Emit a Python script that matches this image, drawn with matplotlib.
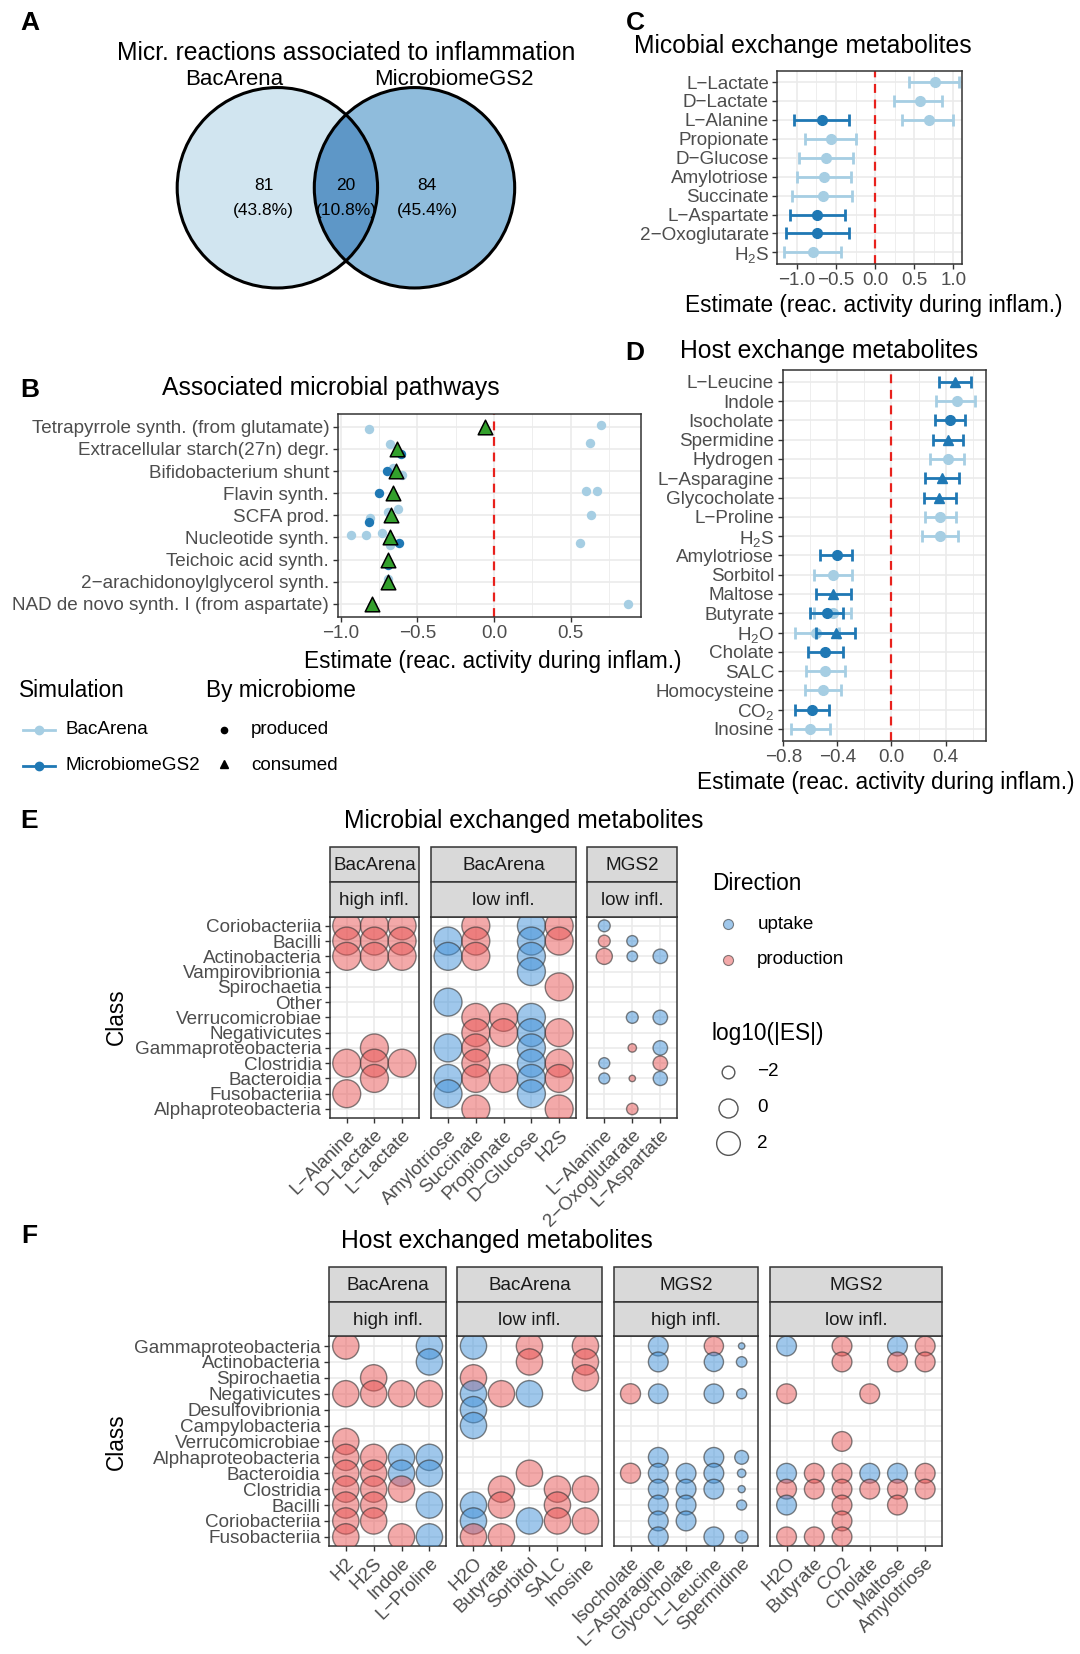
import matplotlib
matplotlib.use("Agg")
import matplotlib.pyplot as plt
from matplotlib.patches import Circle, Rectangle
import numpy as np

plt.rcParams['font.family'] = ['Liberation Sans', 'DejaVu Sans']
plt.rcParams['mathtext.default'] = 'regular'

# ======================= DATA =======================
venn_sets = ["BacArena", "MicrobiomeGS2"]
venn_counts = [81, 20, 84]
venn_pct = ["43.8%", "10.8%", "45.4%"]

pathways = ["Tetrapyrrole synth. (from glutamate)", "Extracellular starch(27n) degr.",
            "Bifidobacterium shunt", "Flavin synth.", "SCFA prod.", "Nucleotide synth.",
            "Teichoic acid synth.", "2\u2212arachidonoylglycerol synth.",
            "NAD de novo synth. I (from aspartate)"]
# BacArena reactions (row, estimate, jitter)
B_bac_row = [0, 0, 1, 1, 2, 2, 3, 3, 4, 4, 4, 4, 5, 5, 5, 5, 5, 7, 8]
B_bac_est = [-0.815, 0.695, -0.68, 0.625, -0.66, -0.60, 0.60, 0.67, -0.81, -0.69, -0.625, 0.633,
             -0.93, -0.833, -0.73, -0.68, 0.56, -0.69, 0.876]
B_bac_dy = [0.1, -0.1, -0.2, -0.25, -0.15, 0.2, -0.1, -0.1, 0.1, -0.15, -0.3, 0.0,
            -0.1, -0.1, -0.2, 0.35, 0.25, -0.1, 0.0]
# MicrobiomeGS2 reactions
B_mgs_row = [1, 2, 3, 4, 5, 6, 8]
B_mgs_est = [-0.607, -0.70, -0.75, -0.815, -0.617, -0.69, -0.795]
B_mgs_dy = [0.25, 0.0, 0.0, 0.3, 0.25, 0.25, 0.1]
# consumed (triangles)
B_con_est = [-0.057, -0.635, -0.64, -0.66, -0.67, -0.677, -0.69, -0.69, -0.795]

C_mets = ["L\u2212Lactate", "D\u2212Lactate", "L\u2212Alanine", "Propionate", "D\u2212Glucose",
          "Amylotriose", "Succinate", "L\u2212Aspartate", "2\u2212Oxoglutarate", "H$_2$S"]
C_met = [0, 1, 2, 2, 3, 4, 5, 6, 7, 8, 9]
C_sim = ["BacArena", "BacArena", "MicrobiomeGS2", "BacArena", "BacArena", "BacArena", "BacArena",
         "BacArena", "MicrobiomeGS2", "MicrobiomeGS2", "BacArena"]
C_est = [0.77, 0.57, -0.68, 0.69, -0.565, -0.626, -0.656, -0.67, -0.743, -0.743, -0.79]
C_lo = [0.44, 0.24, -1.035, 0.35, -0.90, -0.97, -1.00, -1.056, -1.087, -1.14, -1.16]
C_hi = [1.07, 0.86, -0.335, 1.00, -0.24, -0.28, -0.31, -0.29, -0.38, -0.335, -0.435]

D_mets = ["L\u2212Leucine", "Indole", "Isocholate", "Spermidine", "Hydrogen", "L\u2212Asparagine",
          "Glycocholate", "L\u2212Proline", "H$_2$S", "Amylotriose", "Sorbitol", "Maltose",
          "Butyrate", "H$_2$O", "Cholate", "SALC", "Homocysteine", "CO$_2$", "Inosine"]
D_met = [0, 1, 2, 3, 4, 5, 6, 7, 8, 9, 10, 11, 12, 12, 13, 13, 14, 15, 16, 17, 18]
D_sim = ["MicrobiomeGS2", "BacArena", "MicrobiomeGS2", "MicrobiomeGS2", "BacArena", "MicrobiomeGS2",
         "MicrobiomeGS2", "BacArena", "BacArena", "MicrobiomeGS2", "BacArena", "MicrobiomeGS2",
         "MicrobiomeGS2", "BacArena", "BacArena", "MicrobiomeGS2", "MicrobiomeGS2", "BacArena",
         "BacArena", "MicrobiomeGS2", "BacArena"]
D_dir = ["consumed", "produced", "produced", "consumed", "produced", "consumed", "consumed",
         "produced", "produced", "produced", "produced", "consumed", "produced", "produced",
         "produced", "consumed", "produced", "produced", "produced", "produced", "produced"]
D_est = [0.47, 0.485, 0.43, 0.42, 0.415, 0.377, 0.354, 0.36, 0.36, -0.40, -0.43, -0.435,
         -0.48, -0.43, -0.555, -0.41, -0.49, -0.49, -0.505, -0.585, -0.60]
D_lo = [0.35, 0.33, 0.32, 0.31, 0.285, 0.25, 0.24, 0.245, 0.225, -0.525, -0.575, -0.56,
        -0.60, -0.57, -0.71, -0.56, -0.62, -0.63, -0.64, -0.71, -0.74]
D_hi = [0.585, 0.615, 0.545, 0.53, 0.54, 0.50, 0.477, 0.48, 0.49, -0.29, -0.295, -0.30,
        -0.36, -0.30, -0.39, -0.27, -0.36, -0.345, -0.37, -0.46, -0.455]

E_classes = ["Coriobacteriia", "Bacilli", "Actinobacteria", "Vampirovibrionia", "Spirochaetia",
             "Other", "Verrucomicrobiae", "Negativicutes", "Gammaproteobacteria", "Clostridia",
             "Bacteroidia", "Fusobacteriia", "Alphaproteobacteria"]
E_bac_high_mets = ["L\u2212Alanine", "D\u2212Lactate", "L\u2212Lactate"]
E_bac_high = [
    ("Coriobacteriia", 0, "production", 4.2), ("Coriobacteriia", 1, "production", 4.2),
    ("Coriobacteriia", 2, "production", 4.2), ("Bacilli", 0, "production", 4.2),
    ("Bacilli", 1, "production", 4.2), ("Bacilli", 2, "production", 4.2),
    ("Actinobacteria", 0, "production", 4.2), ("Actinobacteria", 1, "production", 4.2),
    ("Actinobacteria", 2, "production", 4.2), ("Gammaproteobacteria", 1, "production", 4.2),
    ("Clostridia", 0, "production", 4.2), ("Clostridia", 1, "production", 4.2),
    ("Clostridia", 2, "production", 4.2), ("Bacteroidia", 1, "production", 4.2),
    ("Fusobacteriia", 0, "production", 4.2)]
E_bac_low_mets = ["Amylotriose", "Succinate", "Propionate", "D\u2212Glucose", "H2S"]
E_bac_low = [
    ("Coriobacteriia", 1, "production", 4.2), ("Coriobacteriia", 3, "uptake", 4.2),
    ("Coriobacteriia", 4, "production", 4.2), ("Bacilli", 0, "uptake", 4.2),
    ("Bacilli", 1, "production", 4.2), ("Bacilli", 3, "uptake", 4.2),
    ("Bacilli", 4, "production", 4.2), ("Actinobacteria", 0, "uptake", 4.2),
    ("Actinobacteria", 1, "production", 4.2), ("Actinobacteria", 3, "uptake", 4.2),
    ("Vampirovibrionia", 3, "uptake", 4.2), ("Spirochaetia", 4, "production", 4.2),
    ("Other", 0, "uptake", 4.2), ("Verrucomicrobiae", 1, "production", 4.2),
    ("Verrucomicrobiae", 2, "production", 4.2), ("Verrucomicrobiae", 3, "uptake", 4.2),
    ("Negativicutes", 1, "production", 4.2), ("Negativicutes", 2, "production", 4.2),
    ("Negativicutes", 3, "uptake", 4.2), ("Negativicutes", 4, "production", 4.2),
    ("Gammaproteobacteria", 0, "uptake", 4.2), ("Gammaproteobacteria", 1, "production", 4.2),
    ("Gammaproteobacteria", 3, "uptake", 4.2), ("Clostridia", 1, "production", 4.2),
    ("Clostridia", 3, "uptake", 4.2), ("Clostridia", 4, "production", 4.2),
    ("Bacteroidia", 0, "uptake", 4.2), ("Bacteroidia", 1, "production", 4.2),
    ("Bacteroidia", 2, "production", 4.2), ("Bacteroidia", 3, "uptake", 4.2),
    ("Bacteroidia", 4, "production", 4.2), ("Fusobacteriia", 0, "uptake", 4.2),
    ("Fusobacteriia", 3, "uptake", 4.2), ("Alphaproteobacteria", 1, "production", 4.2),
    ("Alphaproteobacteria", 4, "production", 4.2)]
E_mgs_low_mets = ["L\u2212Alanine", "2\u2212Oxoglutarate", "L\u2212Aspartate"]
E_mgs_low = [
    ("Coriobacteriia", 0, "uptake", -2.2), ("Bacilli", 0, "production", -2.2),
    ("Bacilli", 1, "uptake", -2.4), ("Actinobacteria", 0, "production", -1.0),
    ("Actinobacteria", 1, "uptake", -2.5), ("Actinobacteria", 2, "uptake", -1.5),
    ("Verrucomicrobiae", 1, "uptake", -2.2), ("Verrucomicrobiae", 2, "uptake", -1.5),
    ("Gammaproteobacteria", 1, "production", -2.9), ("Gammaproteobacteria", 2, "uptake", -1.5),
    ("Clostridia", 0, "uptake", -2.4), ("Clostridia", 2, "production", -1.5),
    ("Bacteroidia", 0, "uptake", -2.4), ("Bacteroidia", 1, "production", -3.2),
    ("Bacteroidia", 2, "uptake", -1.6), ("Alphaproteobacteria", 1, "production", -2.3)]

F_classes = ["Gammaproteobacteria", "Actinobacteria", "Spirochaetia", "Negativicutes",
             "Desulfovibrionia", "Campylobacteria", "Verrucomicrobiae", "Alphaproteobacteria",
             "Bacteroidia", "Clostridia", "Bacilli", "Coriobacteriia", "Fusobacteriia"]
F_bac_high_mets = ["H2", "H2S", "Indole", "L\u2212Proline"]
F_bac_high = [
    ("Gammaproteobacteria", 0, "production", 3.3), ("Gammaproteobacteria", 3, "uptake", 3.3),
    ("Actinobacteria", 3, "uptake", 3.3), ("Spirochaetia", 1, "production", 3.3),
    ("Negativicutes", 0, "production", 3.3), ("Negativicutes", 1, "production", 3.3),
    ("Negativicutes", 2, "production", 3.3), ("Negativicutes", 3, "production", 3.3),
    ("Verrucomicrobiae", 0, "production", 3.3), ("Alphaproteobacteria", 0, "production", 3.3),
    ("Alphaproteobacteria", 1, "production", 3.3), ("Alphaproteobacteria", 2, "uptake", 3.3),
    ("Alphaproteobacteria", 3, "uptake", 3.3), ("Bacteroidia", 0, "production", 3.3),
    ("Bacteroidia", 1, "production", 3.3), ("Bacteroidia", 2, "uptake", 3.3),
    ("Bacteroidia", 3, "uptake", 3.3), ("Clostridia", 0, "production", 3.3),
    ("Clostridia", 1, "production", 3.3), ("Clostridia", 2, "production", 3.3),
    ("Bacilli", 0, "production", 3.3), ("Bacilli", 1, "production", 3.3),
    ("Bacilli", 3, "uptake", 3.3), ("Coriobacteriia", 0, "production", 3.3),
    ("Coriobacteriia", 1, "production", 3.3), ("Fusobacteriia", 0, "production", 3.3),
    ("Fusobacteriia", 2, "production", 3.3), ("Fusobacteriia", 3, "uptake", 3.3)]
F_bac_low_mets = ["H2O", "Butyrate", "Sorbitol", "SALC", "Inosine"]
F_bac_low = [
    ("Gammaproteobacteria", 0, "uptake", 3.3), ("Gammaproteobacteria", 2, "production", 3.3),
    ("Gammaproteobacteria", 4, "production", 3.3), ("Actinobacteria", 2, "production", 3.3),
    ("Actinobacteria", 4, "production", 3.3), ("Spirochaetia", 0, "production", 3.3),
    ("Spirochaetia", 4, "production", 3.3), ("Negativicutes", 0, "uptake", 3.3),
    ("Negativicutes", 1, "production", 3.3), ("Negativicutes", 2, "uptake", 3.3),
    ("Desulfovibrionia", 0, "uptake", 3.3), ("Campylobacteria", 0, "uptake", 3.3),
    ("Bacteroidia", 2, "production", 3.3), ("Clostridia", 1, "production", 3.3),
    ("Clostridia", 3, "production", 3.3), ("Clostridia", 4, "production", 3.3),
    ("Bacilli", 0, "uptake", 3.3), ("Bacilli", 1, "production", 3.3),
    ("Bacilli", 3, "production", 3.3), ("Coriobacteriia", 0, "uptake", 3.3),
    ("Coriobacteriia", 2, "uptake", 3.3), ("Coriobacteriia", 3, "production", 3.3),
    ("Coriobacteriia", 4, "production", 3.3), ("Fusobacteriia", 0, "production", 3.3),
    ("Fusobacteriia", 1, "production", 3.3)]
F_mgs_high_mets = ["Isocholate", "L\u2212Asparagine", "Glycocholate", "L\u2212Leucine", "Spermidine"]
F_mgs_high = [
    ("Gammaproteobacteria", 1, "uptake", 0.3), ("Gammaproteobacteria", 3, "production", 0.1),
    ("Gammaproteobacteria", 4, "uptake", -3.2), ("Actinobacteria", 1, "uptake", 0.3),
    ("Actinobacteria", 3, "uptake", 0.1), ("Actinobacteria", 4, "uptake", -2.5),
    ("Negativicutes", 0, "production", 0.4), ("Negativicutes", 1, "uptake", 0.2),
    ("Negativicutes", 3, "uptake", 0.2), ("Negativicutes", 4, "uptake", -2.6),
    ("Alphaproteobacteria", 1, "uptake", 0.3), ("Alphaproteobacteria", 3, "uptake", 0.3),
    ("Alphaproteobacteria", 4, "uptake", -1.7), ("Bacteroidia", 0, "production", 0.4),
    ("Bacteroidia", 1, "uptake", 0.3), ("Bacteroidia", 2, "uptake", 0.3),
    ("Bacteroidia", 3, "uptake", 0.3), ("Bacteroidia", 4, "uptake", -2.9),
    ("Clostridia", 1, "uptake", 0.3), ("Clostridia", 2, "uptake", 0.3),
    ("Clostridia", 3, "uptake", 0.3), ("Clostridia", 4, "uptake", -3.1),
    ("Bacilli", 1, "uptake", 0.3), ("Bacilli", 2, "uptake", 0.3),
    ("Bacilli", 4, "uptake", -2.6), ("Coriobacteriia", 1, "uptake", 0.3),
    ("Coriobacteriia", 2, "uptake", 0.3), ("Fusobacteriia", 1, "uptake", 0.3),
    ("Fusobacteriia", 3, "uptake", 0.3), ("Fusobacteriia", 4, "uptake", -2.0)]
F_mgs_low_mets = ["H2O", "Butyrate", "CO2", "Cholate", "Maltose", "Amylotriose"]
F_mgs_low = [
    ("Gammaproteobacteria", 0, "uptake", 0.3), ("Gammaproteobacteria", 2, "production", 0.3),
    ("Gammaproteobacteria", 4, "uptake", 0.3), ("Gammaproteobacteria", 5, "production", 0.3),
    ("Actinobacteria", 2, "production", 0.3), ("Actinobacteria", 4, "production", 0.3),
    ("Actinobacteria", 5, "production", 0.3), ("Negativicutes", 0, "production", 0.3),
    ("Negativicutes", 3, "production", 0.3), ("Verrucomicrobiae", 2, "production", 0.3),
    ("Bacteroidia", 0, "uptake", 0.3), ("Bacteroidia", 1, "production", 0.3),
    ("Bacteroidia", 2, "production", 0.3), ("Bacteroidia", 3, "uptake", 0.3),
    ("Bacteroidia", 4, "uptake", 0.3), ("Bacteroidia", 5, "production", 0.3),
    ("Clostridia", 0, "production", 0.3), ("Clostridia", 1, "production", 0.3),
    ("Clostridia", 2, "production", 0.3), ("Clostridia", 3, "production", 0.3),
    ("Clostridia", 4, "production", 0.3), ("Clostridia", 5, "production", 0.3),
    ("Bacilli", 0, "uptake", 0.3), ("Bacilli", 2, "production", 0.3),
    ("Bacilli", 4, "production", 0.3), ("Coriobacteriia", 2, "production", 0.3),
    ("Fusobacteriia", 0, "production", 0.3), ("Fusobacteriia", 1, "production", 0.3),
    ("Fusobacteriia", 2, "production", 0.3)]
ES_legend = [-2, 0, 2]

# ======================= STYLE =======================
LIGHT = '#a6cee3'
DARK = '#1f78b4'
GREEN = '#33a02c'
RED = '#e8211c'
TICKC = '#4d4d4d'
BORDER = '#333333'
GRID = '#ebebeb'
BUB_UP = (0.25, 0.57, 0.85, 0.5)
BUB_PROD = (0.91, 0.33, 0.33, 0.5)
EDGE = (0.2, 0.2, 0.2, 0.6)
SIMCOL = {"BacArena": LIGHT, "MicrobiomeGS2": DARK}
TICK_FS = 13.6
AXT_FS = 16.3
TITLE_FS = 17.8

W, H = 1024.0, 1568.0
fig = plt.figure(figsize=(10.8, 16.54), dpi=100)


def rect(x0, y0, x1, y1):
    return [x0 / W, 1 - y1 / H, (x1 - x0) / W, (y1 - y0) / H]


def style_bw(ax):
    for s in ax.spines.values():
        s.set_color(BORDER)
        s.set_linewidth(1.1)
    ax.tick_params(which='major', colors=BORDER, labelcolor=TICKC, labelsize=TICK_FS,
                   length=3.5, width=1.0, pad=2.5)
    ax.tick_params(which='minor', length=0)
    ax.set_axisbelow(True)
    ax.grid(True, which='major', color=GRID, lw=1.2)
    ax.grid(True, which='minor', color=GRID, lw=0.6)


def es_size(v):
    return 0.5184 * (361 + 100 * np.asarray(v, dtype=float))


overlay = fig.add_axes([0, 0, 1, 1])
overlay.set_xlim(0, W)
overlay.set_ylim(H, 0)
overlay.axis('off')
overlay.set_zorder(20)
overlay.patch.set_alpha(0)


def T(x, y, s, fs=13, ha='center', va='center', **kw):
    overlay.text(x, y, s, fontsize=fs, ha=ha, va=va, **kw)


# ======================= A: Venn =======================
axA = fig.add_axes(rect(100, 30, 560, 290))
axA.set_xlim(100, 560)
axA.set_ylim(290, 30)
axA.axis('off')
cl = Circle((263, 178), 95, fc='#d1e5f0', ec='none')
cr = Circle((393, 178), 95, fc='#8fbcdc', ec='none')
axA.add_patch(cl)
axA.add_patch(cr)
ov = Circle((263, 178), 95, fc='#5e97c7', ec='none')
axA.add_patch(ov)
ov.set_clip_path(cr)
axA.add_patch(Circle((263, 178), 95, fc='none', ec='black', lw=2.2))
axA.add_patch(Circle((393, 178), 95, fc='none', ec='black', lw=2.2))
T(328, 50, "Micr. reactions associated to inflammation", fs=TITLE_FS)
T(222, 75, venn_sets[0], fs=16)
T(430, 75, venn_sets[1], fs=16)
for xc, c, p in zip([250, 328, 405], venn_counts, venn_pct):
    T(xc, 176, str(c), fs=12.5)
    T(xc, 200, "(" + p + ")", fs=12.5)

# ======================= B =======================
axB = fig.add_axes(rect(320, 392, 608, 585))
style_bw(axB)
nB = len(pathways)
axB.set_xlim(-1.02, 0.96)
axB.set_ylim(nB - 1 + 0.6, -0.6)
axB.set_xticks([-1.0, -0.5, 0.0, 0.5])
axB.set_xticklabels(['\u22121.0', '\u22120.5', '0.0', '0.5'])
axB.set_xticks([-0.75, -0.25, 0.25, 0.75], minor=True)
axB.set_yticks(range(nB))
axB.set_yticklabels(pathways)
axB.axvline(0, color=RED, ls=(0, (4, 3)), lw=1.6, zorder=2)
axB.scatter(B_bac_est, np.array(B_bac_row) + np.array(B_bac_dy), s=46, color=LIGHT, lw=0, zorder=3)
axB.scatter(B_mgs_est, np.array(B_mgs_row) + np.array(B_mgs_dy), s=46, color=DARK, lw=0, zorder=3)
axB.scatter(B_con_est, range(nB), s=110, marker='^', color=GREEN, edgecolors='black', lw=1.1, zorder=4)
T(314, 368, "Associated microbial pathways", fs=TITLE_FS)
T(467, 627, "Estimate (reac. activity during inflam.)", fs=AXT_FS)

# legend of B
T(18, 655, "Simulation", fs=AXT_FS, ha='left')
T(195, 655, "By microbiome", fs=AXT_FS, ha='left')
for yy, lab in [(692, "BacArena"), (726, "MicrobiomeGS2")]:
    overlay.plot([22, 52], [yy, yy], color=SIMCOL[lab], lw=2)
    overlay.plot([37], [yy], 'o', color=SIMCOL[lab], ms=6)
    T(62, yy, lab, fs=TICK_FS, ha='left')
overlay.plot([212], [692], 'o', color='black', ms=4.5)
overlay.plot([212], [724], '^', color='black', ms=5.5)
T(238, 692, "produced", fs=TICK_FS, ha='left')
T(238, 726, "consumed", fs=TICK_FS, ha='left')


def draw_range(ax, met, sim, est, lo, hi, dirs=None):
    for i in range(len(met)):
        mk = '^' if (dirs is not None and dirs[i] == 'consumed') else 'o'
        col = SIMCOL[sim[i]]
        ax.errorbar([est[i]], [met[i]], xerr=[[est[i] - lo[i]], [hi[i] - est[i]]], fmt=mk,
                    color=col, ms=7 if mk == 'o' else 7.5, elinewidth=2, capsize=4.5,
                    capthick=2, zorder=3 if sim[i] == 'BacArena' else 4)


# ======================= C =======================
axC = fig.add_axes(rect(737, 67, 912, 250))
style_bw(axC)
axC.set_xlim(-1.25, 1.11)
axC.set_ylim(len(C_mets) - 1 + 0.6, -0.6)
axC.set_xticks([-1.0, -0.5, 0.0, 0.5, 1.0])
axC.set_xticklabels(['\u22121.0', '\u22120.5', '0.0', '0.5', '1.0'])
axC.set_xticks([-0.75, -0.25, 0.25, 0.75], minor=True)
axC.set_yticks(range(len(C_mets)))
axC.set_yticklabels(C_mets)
axC.axvline(0, color=RED, ls=(0, (4, 3)), lw=1.6, zorder=2)
draw_range(axC, C_met, C_sim, C_est, C_lo, C_hi)
T(761, 44, "Micobial exchange metabolites", fs=TITLE_FS)
T(828, 290, "Estimate (reac. activity during inflam.)", fs=AXT_FS)

# ======================= D =======================
axD = fig.add_axes(rect(742, 351, 935, 702))
style_bw(axD)
axD.set_xlim(-0.805, 0.70)
axD.set_ylim(len(D_mets) - 1 + 0.6, -0.6)
axD.set_xticks([-0.8, -0.4, 0.0, 0.4])
axD.set_xticklabels(['\u22120.8', '\u22120.4', '0.0', '0.4'])
axD.set_xticks([-0.6, -0.2, 0.2, 0.6], minor=True)
axD.set_yticks(range(len(D_mets)))
axD.set_yticklabels(D_mets)
axD.axvline(0, color=RED, ls=(0, (4, 3)), lw=1.6, zorder=2)
draw_range(axD, D_met, D_sim, D_est, D_lo, D_hi, D_dir)
T(786, 333, "Host exchange metabolites", fs=TITLE_FS)
T(840, 742, "Estimate (reac. activity during inflam.)", fs=AXT_FS)


# ======================= E / F bubble facets =======================
def draw_facets(facets, classes, xr, s_top, s_mid, p_top, p_bot):
    nrow = len(classes)
    for k, (lab1, lab2, mets, entries) in enumerate(facets):
        x0, x1 = xr[k]
        ax = fig.add_axes(rect(x0, p_top, x1, p_bot))
        style_bw(ax)
        ncol = len(mets)
        ax.set_xlim(-0.6, ncol - 0.4)
        ax.set_ylim(nrow - 0.4, -0.6)
        ax.set_xticks(range(ncol))
        ax.set_xticklabels(mets, rotation=45, ha='right', va='top', rotation_mode='anchor')
        ax.set_yticks(range(nrow))
        if k == 0:
            ax.set_yticklabels(classes)
        else:
            ax.set_yticklabels([])
            ax.tick_params(axis='y', length=0)
        xs = [e[1] for e in entries]
        ys = [classes.index(e[0]) for e in entries]
        cols = [BUB_UP if e[2] == 'uptake' else BUB_PROD for e in entries]
        ax.scatter(xs, ys, s=es_size([e[3] for e in entries]), c=cols, edgecolors=EDGE,
                   linewidths=1.0, zorder=3)
        for (ya, yb, lab) in [(s_top, s_mid, lab1), (s_mid, p_top, lab2)]:
            overlay.add_patch(Rectangle((x0, ya), x1 - x0, yb - ya, fc='#d9d9d9', ec=BORDER,
                                        lw=1.1, clip_on=False))
            T((x0 + x1) / 2, (ya + yb) / 2 + 1, lab, fs=TICK_FS, color='#1a1a1a')


E_facets = [("BacArena", "high infl.", E_bac_high_mets, E_bac_high),
            ("BacArena", "low infl.", E_bac_low_mets, E_bac_low),
            ("MGS2", "low infl.", E_mgs_low_mets, E_mgs_low)]
draw_facets(E_facets, E_classes, [(313, 397), (409, 546), (557, 642)], 803, 836, 869, 1060)
T(497, 778, "Microbial exchanged metabolites", fs=TITLE_FS)
T(110, 964, "Class", fs=AXT_FS, rotation=90)

# legend of E
T(675, 838, "Direction", fs=AXT_FS, ha='left')
overlay.scatter([690], [876], s=es_size(-2.6), color=BUB_UP, edgecolors=EDGE, lw=0.8)
overlay.scatter([690], [910], s=es_size(-2.6), color=BUB_PROD, edgecolors=EDGE, lw=0.8)
T(718, 876, "uptake", fs=TICK_FS, ha='left')
T(718, 910, "production", fs=TICK_FS, ha='left')
T(675, 980, "log10(|ES|)", fs=AXT_FS, ha='left')
for yy, v in zip([1016, 1050, 1084], ES_legend):
    overlay.scatter([690], [yy], s=es_size(v), facecolor='white', edgecolors='#555555', lw=1.0)
    T(718, yy, str(v).replace('-', '\u2212'), fs=TICK_FS, ha='left')

F_facets = [("BacArena", "high infl.", F_bac_high_mets, F_bac_high),
            ("BacArena", "low infl.", F_bac_low_mets, F_bac_low),
            ("MGS2", "high infl.", F_mgs_high_mets, F_mgs_high),
            ("MGS2", "low infl.", F_mgs_low_mets, F_mgs_low)]
draw_facets(F_facets, F_classes, [(312, 423), (433, 571), (582, 719), (730, 893)],
            1201, 1234, 1267, 1466)
T(471, 1176, "Host exchanged metabolites", fs=TITLE_FS)
T(110, 1367, "Class", fs=AXT_FS, rotation=90)

# panel letters
for x, y, l in [(28, 22, "A"), (28, 370, "B"), (602, 22, "C"), (602, 335, "D"),
                (28, 778, "E"), (28, 1172, "F")]:
    T(x, y, l, fs=19, fontweight='bold')

fig.savefig("out.png", dpi=100)
